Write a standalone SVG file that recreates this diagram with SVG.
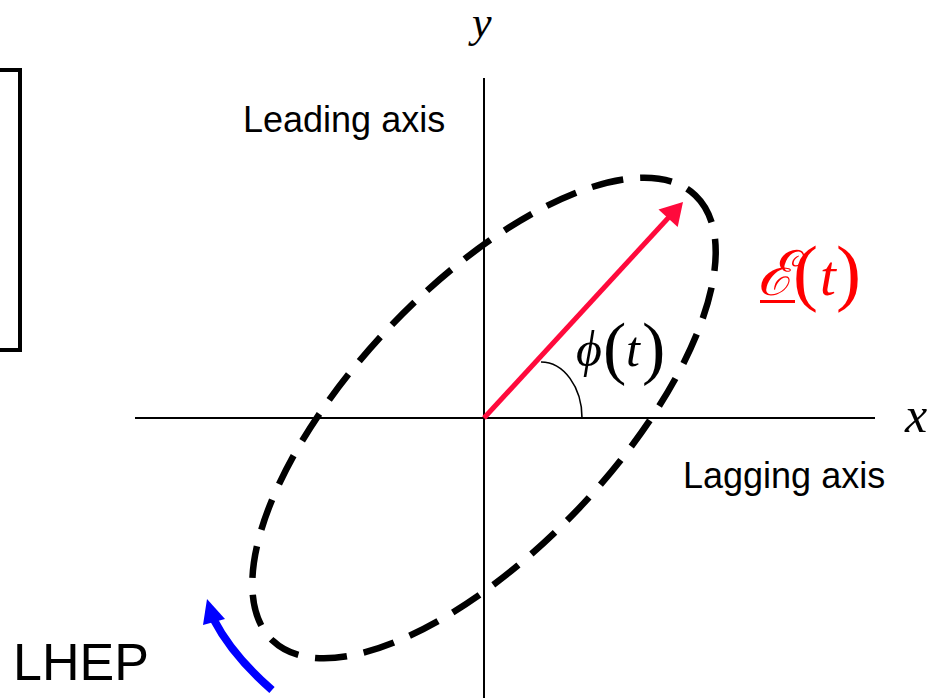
<svg xmlns="http://www.w3.org/2000/svg" width="932" height="698" viewBox="0 0 932 698">
<style>
.ax{stroke:#000;stroke-width:2;fill:none}
.lbl{font-family:"Liberation Sans",Arial,sans-serif;fill:#000}
.math{font-family:"Liberation Serif","Times New Roman",serif;font-style:italic}
.rm{font-family:"Liberation Serif","Times New Roman",serif}
</style>
<rect width="932" height="698" fill="#fff"/>
<g id="frame"><rect x="-10" y="70" width="30" height="280" fill="none" stroke="#000" stroke-width="4"/></g>
<g id="axes">
<line class="ax" x1="135" y1="418" x2="875" y2="418"/>
<line class="ax" x1="484" y1="78" x2="484" y2="698"/>
<text class="math" x="472" y="37" font-size="44">y</text>
<text class="math" x="905" y="432" font-size="50">x</text>
</g>
<g id="ellipse"><ellipse cx="484" cy="418" rx="307" ry="131" transform="rotate(-46.5 484 418)" fill="none" stroke="#000" stroke-width="6.5" stroke-dasharray="32 17"/></g>
<g id="connectors">
<g id="efield">
<line x1="484" y1="418" x2="670" y2="216" stroke="#FF0A3C" stroke-width="5"/>
<polygon points="683,202 677.7,227 658.5,209.4" fill="#FF0A3C"/>
</g>
<path id="angle" d="M541 362 A41 56 0 0 1 582 418" fill="none" stroke="#000" stroke-width="1.6"/>
<g id="rotation">
<path d="M272 690 Q232 655 214 620" fill="none" stroke="#0000FF" stroke-width="8"/>
<polygon points="207,599 203,625 225,619" fill="#0000FF"/>
</g>
</g>
<g id="labels">
<text class="lbl" x="243" y="132" font-size="36">Leading axis</text>
<text class="lbl" x="683" y="488" font-size="36">Lagging axis</text>
<text class="lbl" x="13" y="680" font-size="52">LHEP</text>
<g id="phi">
<text class="math" x="576" y="366" font-size="50">ϕ</text>
<text class="rm" x="603" y="371" font-size="70">(</text>
<text class="math" x="626" y="366" font-size="50">t</text>
<text class="rm" x="642" y="371" font-size="70">)</text>
</g>
<g id="Et" fill="#FF0000">
<text x="757" y="295" font-size="62" font-family="'DejaVu Serif','Liberation Serif',serif" font-style="italic">ℰ</text>
<text class="rm" x="793" y="297" font-size="75">(</text>
<text class="math" x="820" y="295" font-size="57">t</text>
<text class="rm" x="836" y="297" font-size="75">)</text>
<rect x="760" y="300" width="35" height="3"/>
</g>
</g>
</svg>
